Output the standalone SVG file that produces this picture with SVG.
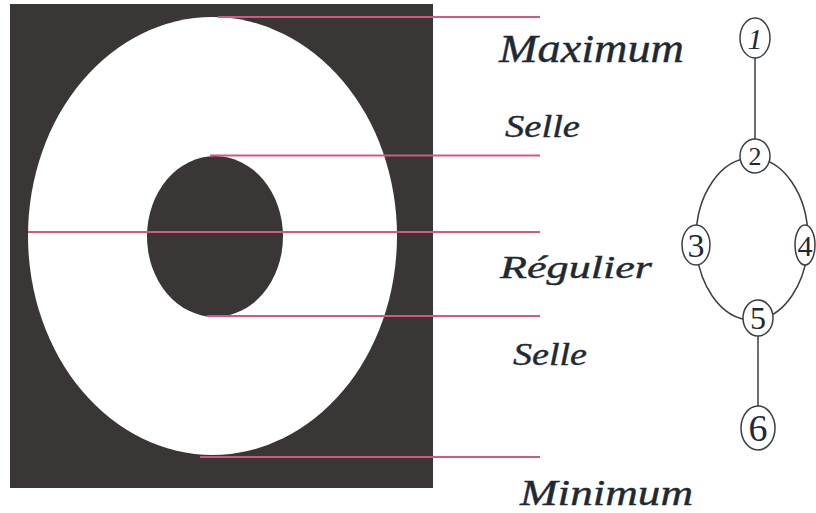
<svg xmlns="http://www.w3.org/2000/svg" width="816" height="513" viewBox="0 0 816 513">
<style>
.lbl{font-family:"Liberation Serif",serif;font-style:italic;fill:#1e2a33;stroke:#1e2a33;stroke-width:0.4}
.pink{stroke:#d4587e;stroke-width:2;fill:none}
.node{fill:#fff;stroke:#3a3f44;stroke-width:1.5}
.edge{stroke:#3a3f44;stroke-width:1.5;fill:none}
.num{font-family:"Liberation Serif",serif;fill:#1e2a33;text-anchor:middle}
</style>
<rect width="816" height="513" fill="#fff"/>
<g id="image">
<rect x="10" y="4" width="423" height="484" fill="#3b3636"/>
<ellipse cx="212.5" cy="236" rx="184.5" ry="219" fill="#fff"/>
<ellipse cx="215" cy="236.5" rx="68" ry="80.5" fill="#3b3636"/>
</g>
<g id="guides">
<line class="pink" x1="218" y1="17" x2="540" y2="17"/>
<line class="pink" x1="210" y1="155.5" x2="540" y2="155.5"/>
<line class="pink" x1="28" y1="232" x2="540" y2="232"/>
<line class="pink" x1="207" y1="316" x2="540" y2="316"/>
<line class="pink" x1="200" y1="457" x2="540" y2="457"/>
</g>
<g id="labels">
<text class="lbl" x="499" y="62" font-size="40" textLength="185" lengthAdjust="spacingAndGlyphs">Maximum</text>
<text class="lbl" x="505" y="137" font-size="32" textLength="75" lengthAdjust="spacingAndGlyphs">Selle</text>
<text class="lbl" x="500" y="278" font-size="32" textLength="152" lengthAdjust="spacingAndGlyphs">Régulier</text>
<text class="lbl" x="513" y="365" font-size="32" textLength="74" lengthAdjust="spacingAndGlyphs">Selle</text>
<text class="lbl" x="520" y="505" font-size="36" textLength="173" lengthAdjust="spacingAndGlyphs">Minimum</text>
</g>
<g id="connectors">
<line class="edge" x1="755" y1="57" x2="755" y2="140"/>
<ellipse class="edge" cx="752" cy="239" rx="56" ry="81"/>
<line class="edge" x1="758" y1="336" x2="758" y2="406"/>
</g>
<g id="n1"><ellipse class="node" cx="755" cy="38" rx="15" ry="20"/><text class="num" x="755" y="49" font-size="30" font-style="italic">1</text></g>
<g id="n2"><ellipse class="node" cx="755" cy="156" rx="15" ry="17"/><text class="num" x="755" y="165" font-size="26">2</text></g>
<g id="n3"><ellipse class="node" cx="696" cy="245" rx="14" ry="20"/><text class="num" x="696" y="257" font-size="34">3</text></g>
<g id="n4"><ellipse class="node" cx="805" cy="245" rx="10" ry="20"/><text class="num" x="805" y="256" font-size="30">4</text></g>
<g id="n5"><ellipse class="node" cx="758" cy="318" rx="15" ry="18"/><text class="num" x="758" y="329" font-size="32">5</text></g>
<g id="n6"><ellipse class="node" cx="758" cy="428" rx="17" ry="22"/><text class="num" x="758" y="441" font-size="38">6</text></g>
</svg>
